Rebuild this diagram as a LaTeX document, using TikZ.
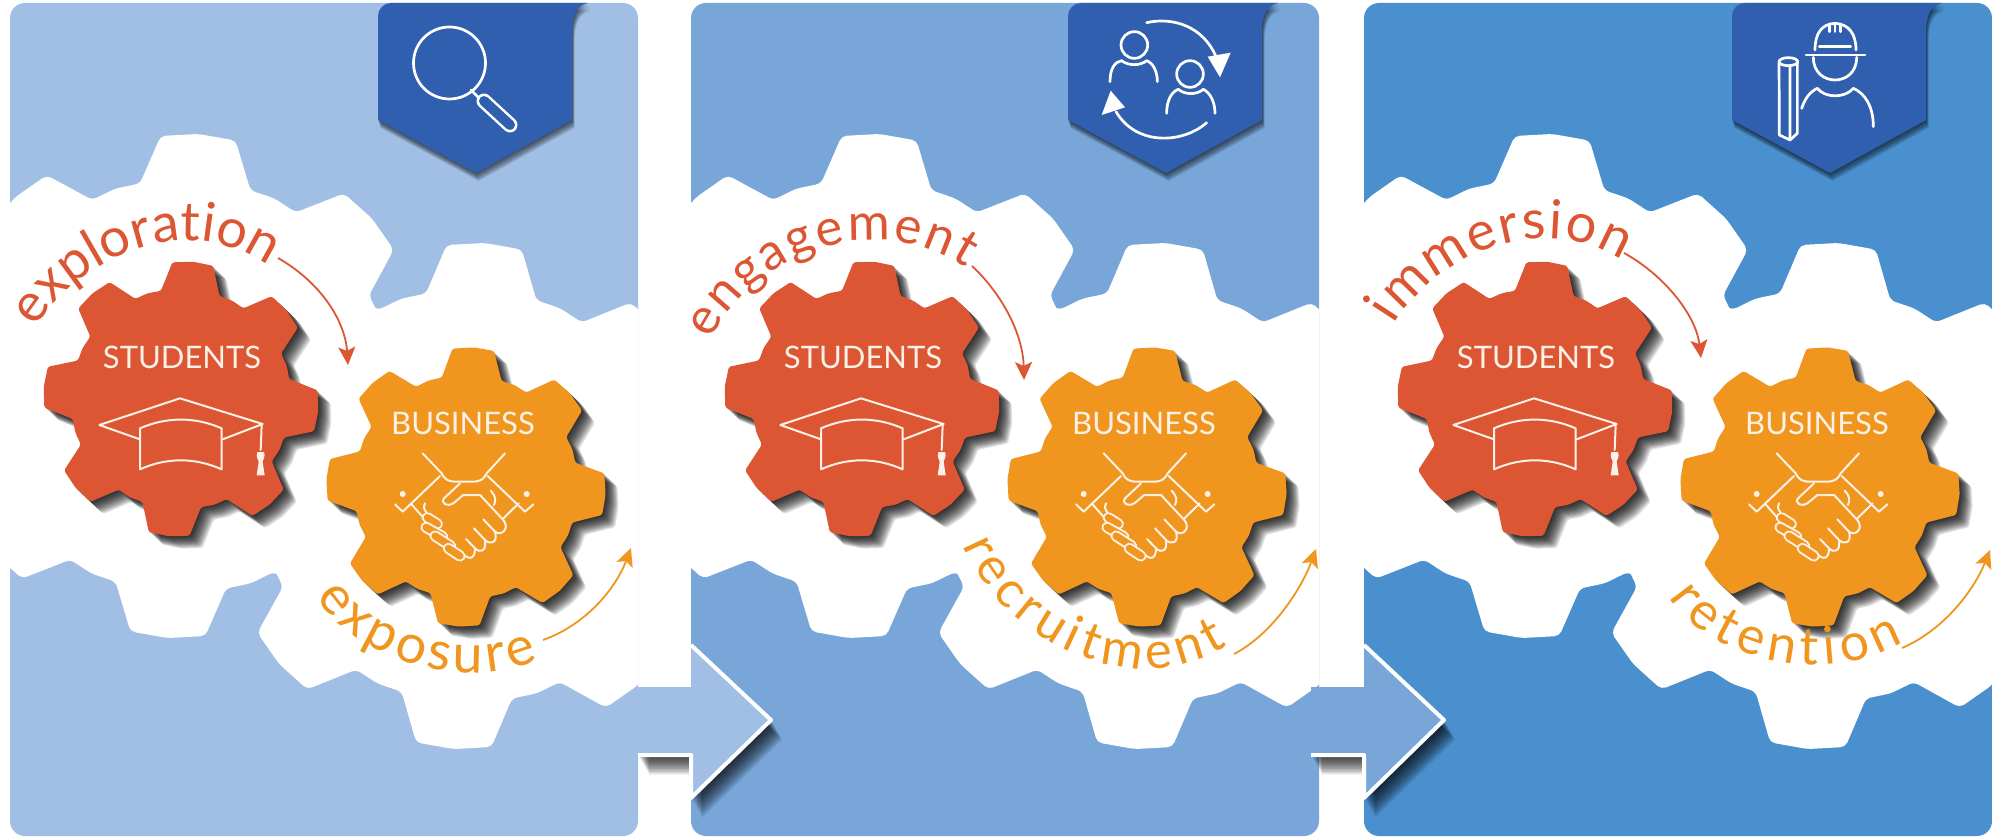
\documentclass[tikz,border=0pt]{standalone}
\usepackage{fontspec}
\setmainfont{Lato}
\newfontfamily\lblfont{Lato}
\usetikzlibrary{decorations.text,arrows.meta}
\definecolor{redc}{HTML}{DC5633}
\definecolor{orc}{HTML}{F0951E}
\definecolor{pa}{HTML}{A1BFE5}
\definecolor{pb}{HTML}{78A6D9}
\definecolor{pc}{HTML}{4A90CE}
\definecolor{rib}{HTML}{2F5FAE}
\definecolor{cream}{HTML}{FBF1E6}
\tikzset{
 iconline/.style={draw=cream,line width=1pt,line cap=round,line join=round},
 ribline/.style={draw=white,line width=1.35pt,line cap=round,line join=round},
 gearlabel/.style={text=cream,font=\fontsize{15.5}{18}\selectfont,inner sep=0pt},
 redarrow/.style={color=redc,line width=.9pt,-{Stealth[length=9pt,width=8.5pt,inset=2pt]}},
 orarrow/.style={color=orc,line width=.9pt,-{Stealth[length=9pt,width=8.5pt,inset=2pt]}},
 zoomthree/.style={x=0.16667pt,y=-0.16667pt}
}
% #1 outer radius, #2 root radius, #3 rotation
\newcommand\onetooth[4]{-- ({#3-90+45*#4-8.6}:#1) -- ({#3-90+45*#4}:#1*1.006)
   -- ({#3-90+45*#4+8.6}:#1) -- ({#3-90+45*#4+15.5}:#2) -- ({#3-90+45*#4+22.5}:#2*1.008)}
\newcommand\gearpath[3]{({#3-90-15.5}:#2)
  \foreach \i in {0,...,6}{ \onetooth{#1}{#2}{#3}{\i} -- ({#3-90+45*\i+29.5}:#2)}
  \onetooth{#1}{#2}{#3}{7} -- cycle}
% cx cy R Rr rot colour
\newcommand\softgear[6]{%
  \foreach \k in {1,...,13}{\fill[black,opacity=.11,rounded corners=1.2pt,shift={(#1+\k,#2+\k*.95)}] \gearpath{#3}{#4}{#5};}
  \fill[#6,rounded corners=1.2pt,shift={(#1,#2)}] \gearpath{#3}{#4}{#5};}
\newcommand\whitegear[5]{\fill[white,rounded corners=2.5pt,shift={(#1,#2)}] \gearpath{#3}{#4}{#5};}
% ribbon
\newcommand\ribbonpath{(0,16) arc[start angle=180,end angle=270,radius=13] -- (210,3) .. controls (199,5) and (194,15) .. (194,32) -- (194,120) -- (98,173) -- (0,120) -- cycle}
\newcommand\ribbon[1]{%
  \foreach \k in {1,...,9}{\fill[black,opacity=.085,shift={(#1+.3*\k,.9*\k)}] \ribbonpath;}
  \fill[rib,shift={(#1,0)}] \ribbonpath;}
% common gears, labels and icons of one panel
\newcommand\panelbase[1]{%
  \fill[#1,rounded corners=7.5pt] (10,3) rectangle (638,836);
  \begin{scope}
  \clip[rounded corners=7.5pt] (10,3) rectangle (638,836);
  \whitegear{183}{386}{251}{207}{3.5}
  \whitegear{469}{496}{252}{207}{3.5}
  \softgear{181}{399}{137}{110}{5}{redc}
  \softgear{466}{487}{139}{112}{3}{orc}
  \end{scope}
  \node[gearlabel] (stud) at (182,357) {STUDENTS};
  \node[gearlabel] (busi) at (463,423) {BUSINESS};
  \begin{scope}[shift={(40,250)},zoomthree]
   \draw[iconline] (300,568) -- (178,525) -- (420,445) -- (668,522) -- (548,568);
   \draw[iconline] (300,535) .. controls (380,500) and (465,500) .. (545,535) -- (545,658) .. controls (465,622) and (380,622) .. (300,658) -- cycle;
   \draw[iconline] (665,525) -- (662,600);
   \fill[cream] (652,606) -- (672,606) .. controls (678,620) and (668,630) .. (668,635) -- (674,676) -- (650,676) -- (656,635) .. controls (656,630) and (646,620) .. (652,606) -- cycle;
  \end{scope}
  \begin{scope}[shift={(320,340)},zoomthree]
   \draw[iconline] (308,340) -- (365,400) .. controls (375,420) and (385,425) .. (410,425) -- (455,425) .. controls (480,425) and (490,420) .. (500,400) -- (555,340);
   \draw[iconline] (360,408) -- (248,515) -- (225,493);
   \draw[iconline] (503,408) -- (615,515) -- (640,493);
   \draw[iconline] (272,490) -- (325,550);
   \draw[iconline] (596,490) -- (548,537);
   \fill[cream] (248,462) circle (9) (620,462) circle (9);
   \draw[iconline] (420,430) -- (372,475) .. controls (360,490) and (385,502) .. (400,490) -- (430,465) -- (480,465) -- (550,540) .. controls (570,565) and (545,590) .. (525,575) -- (490,538);
   \draw[iconline] (525,575) .. controls (535,610) and (510,615) .. (495,600) -- (462,565);
   \draw[iconline] (495,600) .. controls (500,635) and (480,640) .. (465,625) -- (438,597);
   \draw[iconline] (465,625) .. controls (465,660) and (445,660) .. (428,640);
   \draw[iconline] (315,490) .. controls (310,500) and (312,510) .. (320,518);
   \draw[iconline] (512,452) .. controls (525,465) and (530,480) .. (522,495);
   \foreach \ax/\ay/\bx/\by in {322/533/352/552,318/562/368/590,345/588/392/618,385/625/420/648}{
     \draw[cream,line width=5.6pt,line cap=round] (\ax,\ay) -- (\bx,\by);
     \draw[orc,line width=3.6pt,line cap=round] (\ax,\ay) -- (\bx,\by);}
  \end{scope}
}
% curved label: colour, size, text, path
\newcommand\curved[4]{\path[decorate,decoration={text along path,text color=#1,text align={fit to path},text={|\lblfont\fontsize{#2}{30}\selectfont|#3}}] #4;}
% arrow shape with shadow
\newcommand\arrowpath{(0,687) -- (53,687) -- (53,645) -- (133,720) -- (53,798) -- (53,755) -- (0,755) -- cycle}
\newcommand\bigarrow[2]{%
  \foreach \k in {1,...,14}{\fill[black,opacity=.085,shift={(#1+.8*\k,1.4*\k)}] \arrowpath;}
  \fill[#2,shift={(#1,0)}] \arrowpath;
  \draw[white,line width=2pt,line join=round,shift={(#1,0)}] (0,755) -- (53,755) -- (53,798) -- (133,720) -- (53,645);}
\begin{document}
\begin{tikzpicture}[x=0.5pt,y=-0.5pt]
\useasboundingbox (0,0) rectangle (1992,839);
\fill[white] (0,0) rectangle (1992,839);
% ---- panel 1
\begin{scope}
 \panelbase{pa}
 \curved{redc}{27}{exploration}{(36,328) .. controls (72,265) and (180,205) .. (268,266)}
 \coordinate (s1) at (278,258); \coordinate (t1) at (348,365);
 \draw[redarrow] (s1) .. controls (320,282) and (345,320) .. (t1);
 \curved{orc}{27}{exposure}{(316,597) .. controls (350,655) and (460,695) .. (538,660)}
 \coordinate (u1) at (543,640); \coordinate (v1) at (631,548);
 \draw[orarrow] (u1) .. controls (585,625) and (615,590) .. (v1);
\end{scope}
\ribbon{378}
\draw[ribline] (449.5,63) circle (36);
\draw[ribline] (471,90) -- (479,98);
\draw[white,line width=7.5pt,line cap=round] (484,101) -- (510,125);
\draw[rib,line width=5pt,line cap=round] (484,101) -- (510,125);
% ---- panel 2
\begin{scope}[shift={(681,0)}]
 \panelbase{pb}
 \curved{redc}{25.5}{engagement}{(30,340) .. controls (65,265) and (180,202) .. (285,268)}
 \coordinate (s2) at (291,266); \coordinate (t2) at (343,380);
 \draw[redarrow] (s2) .. controls (322,295) and (342,335) .. (t2);
 \curved{orc}{25.5}{recruitment}{(282,545) .. controls (320,640) and (452,705) .. (546,646)}
 \coordinate (u2) at (553,654); \coordinate (v2) at (635,549);
 \draw[orarrow] (u2) .. controls (590,635) and (620,590) .. (v2);
\end{scope}
\ribbon{1068}
\begin{scope}[shift={(1040,0)},zoomthree]
 \draw[ribline] (283,135) circle (40);
 \draw[ribline] (210,245) .. controls (210,205) and (225,185) .. (245,182) .. controls (265,198) and (300,198) .. (320,182) .. controls (340,190) and (352,215) .. (352,245);
 \draw[ribline] (450,222) circle (40);
 \draw[ribline] (380,340) .. controls (380,300) and (395,275) .. (415,268) .. controls (435,285) and (470,285) .. (490,268) .. controls (510,278) and (525,305) .. (525,340);
 \draw[ribline] (320,68) .. controls (400,50) and (490,80) .. (528,170);
 \fill[white] (503,170) -- (572,158) -- (540,232) -- cycle;
 \draw[ribline] (500,368) .. controls (430,430) and (290,440) .. (228,335);
 \fill[white] (212,272) -- (185,345) -- (255,322) -- cycle;
\end{scope}
% ---- panel 3
\begin{scope}[shift={(1354,0)}]
 \panelbase{pc}
 \curved{redc}{27}{immersion}{(40,325) .. controls (75,265) and (180,205) .. (268,260)}
 \coordinate (s3) at (270,253); \coordinate (t3) at (347,358);
 \draw[redarrow] (s3) .. controls (310,275) and (342,315) .. (t3);
 \curved{orc}{26}{retention}{(315,597) .. controls (350,655) and (465,690) .. (550,642)}
 \coordinate (u3) at (548,648); \coordinate (v3) at (636,550);
 \draw[orarrow] (u3) .. controls (590,630) and (620,590) .. (v3);
\end{scope}
\ribbon{1732}
\begin{scope}[shift={(1700,0)},zoomthree]
 \draw[ribline] (345,150) .. controls (345,100) and (365,72) .. (405,70) .. controls (445,72) and (468,100) .. (468,150);
 \draw[ribline] (388,72) -- (388,95) (405,70) -- (405,95) (422,72) -- (422,95);
 \draw[ribline] (318,165) -- (495,165);
 \draw[ribline] (358,140) -- (452,140);
 \draw[ribline] (340,172) .. controls (340,220) and (375,240) .. (405,240) .. controls (435,240) and (470,220) .. (470,172);
 \draw[ribline] (305,325) .. controls (315,295) and (330,275) .. (352,265) .. controls (375,295) and (435,295) .. (460,265) .. controls (495,280) and (520,320) .. (520,380);
 \draw[ribline] (265,185) ellipse (28 and 12);
 \draw[ribline] (237,187) -- (238,405) -- (270,420) -- (270,197);
 \draw[ribline] (270,420) -- (292,400) -- (292,187);
\end{scope}
% ---- arrows between the panels
\bigarrow{638}{pa}
\bigarrow{1311}{pb}
\end{tikzpicture}
\end{document}
